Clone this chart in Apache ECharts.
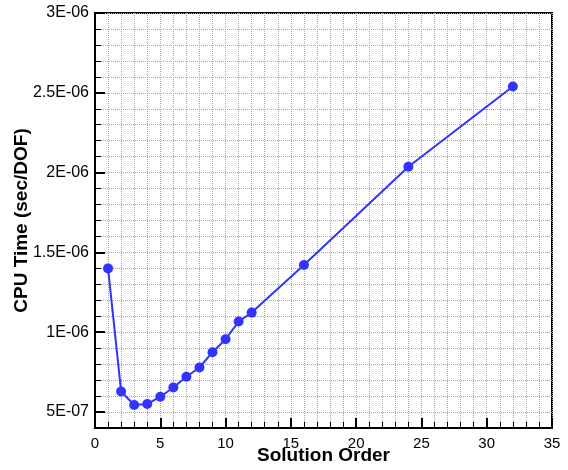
<!DOCTYPE html>
<html>
<head>
<meta charset="utf-8">
<script src="https://cdn.jsdelivr.net/npm/echarts@6/dist/echarts.min.js"></script>
<style>
  html, body { margin: 0; padding: 0; background: #fff; }
  #chart { width: 568px; height: 470px; }
</style>
</head>
<body>
<div id="chart"></div>
<script>
// solution order vs CPU time per DOF
const orders = [1, 2, 3, 4, 5, 6, 7, 8, 9, 10, 11, 12, 16, 24, 32];
const cpuTime = [1.40e-6, 6.29e-7, 5.44e-7, 5.50e-7, 5.96e-7, 6.54e-7, 7.21e-7, 7.79e-7,
  8.75e-7, 9.56e-7, 1.067e-6, 1.123e-6, 1.421e-6, 2.037e-6, 2.540e-6];

const xTicks = [0, 5, 10, 15, 20, 25, 30, 35];

// 2.5e-6 -> "2.5E-06"
function sciLabel(v) {
  const s = Number(v.toPrecision(6)).toExponential();
  const parts = s.split("e");
  const exp = parseInt(parts[1], 10);
  const sign = exp < 0 ? "-" : "+";
  const abs = Math.abs(exp);
  return parts[0] + "E" + sign + (abs < 10 ? "0" + abs : abs);
}

const chart = echarts.init(document.getElementById("chart"));

const gridLine = { show: true, lineStyle: { color: "#a8a8a8", type: "dotted", width: 1 } };

chart.setOption({
  animation: false,
  textStyle: { fontFamily: "Liberation Sans, Arial, sans-serif" },
  grid: {
    left: 95, right: 16, top: 13, bottom: 42,
    outerBoundsMode: "none",
    containLabel: false,
    show: true, borderColor: "#000", borderWidth: 2
  },
  xAxis: {
    type: "value",
    min: xTicks[0],
    max: xTicks[xTicks.length - 1],
    interval: 5,
    name: "Solution Order",
    nameLocation: "middle",
    nameMoveOverlap: false,
    nameGap: 18,
    nameTextStyle: { fontSize: 19, fontWeight: "bold", color: "#000" },
    axisLine: { show: true, lineStyle: { color: "#000", width: 2 } },
    axisTick: { show: true, inside: true, length: 10, lineStyle: { color: "#000", width: 2 } },
    minorTick: { show: true, splitNumber: 5, length: 6, lineStyle: { color: "#000", width: 1 } },
    axisLabel: { fontSize: 15, color: "#000", margin: 8 },
    splitLine: gridLine,
    minorSplitLine: gridLine
  },
  yAxis: {
    type: "value",
    min: 4e-7,
    max: 3e-6,
    splitNumber: 5,
    name: "CPU Time (sec/DOF)",
    nameLocation: "middle",
    nameMoveOverlap: false,
    nameGap: 64,
    nameTextStyle: { fontSize: 19, fontWeight: "bold", color: "#000" },
    axisLine: { show: true, lineStyle: { color: "#000", width: 2 } },
    axisTick: { show: true, inside: true, length: 10, lineStyle: { color: "#000", width: 2 } },
    minorTick: { show: true, splitNumber: 5, length: 6, lineStyle: { color: "#000", width: 1 } },
    axisLabel: { fontSize: 16, color: "#000", margin: 6, formatter: sciLabel, showMinLabel: false },
    splitLine: gridLine,
    minorSplitLine: gridLine
  },
  series: [
    {
      type: "line",
      data: orders.map((o, i) => [o, cpuTime[i]]),
      symbol: "circle",
      symbolSize: 10,
      lineStyle: { color: "#3333ff", width: 2 },
      itemStyle: { color: "#3333ff" }
    }
  ]
});
</script>
</body>
</html>
